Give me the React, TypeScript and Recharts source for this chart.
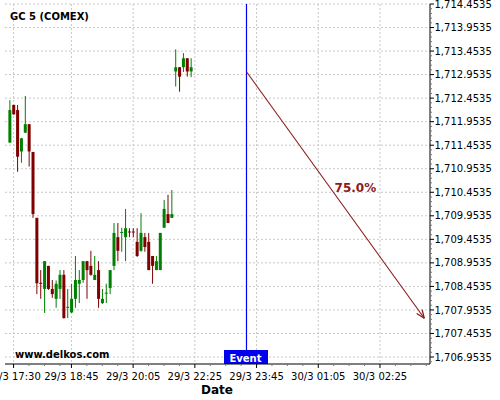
import React from 'react';
import { ComposedChart, Bar, XAxis, YAxis, CartesianGrid, ReferenceLine, ReferenceDot } from 'recharts';

// ---- data ----
const opens = [1711.51, 1712.31, 1712.2, 1711.32, 1711.72, 1711.9, 1711.31, 1709.91, 1708.53, 1708.4, 1708.89, 1708.4, 1708.19, 1708.4, 1708.7, 1708.01, 1707.9, 1708.19, 1708.51, 1708.59, 1708.99, 1708.89, 1708.59, 1708.8, 1708.1, 1708.31, 1708.42, 1708.89, 1709.5, 1709.6, 1709.5, 1709.62, 1709.62, 1709.4, 1709.21, 1709.5, 1709.4, 1709.1, 1708.8, 1708.8, 1709.7, 1709.99, 1709.91, 1713.02, 1713.11, 1713.11, 1713.3, 1713.02];
const highs = [1712.41, 1712.31, 1712.31, 1711.61, 1712.5, 1711.9, 1711.31, 1709.91, 1708.8, 1708.99, 1708.89, 1708.59, 1708.58, 1708.8, 1708.8, 1708.4, 1708.51, 1709.1, 1708.8, 1708.99, 1708.99, 1709.21, 1709.1, 1708.99, 1708.4, 1708.51, 1708.8, 1709.8, 1709.8, 1709.7, 1710.1, 1709.69, 1709.69, 1709.69, 1710.01, 1709.59, 1709.59, 1709.1, 1709.1, 1709.59, 1710.29, 1710.4, 1710.5, 1713.49, 1713.11, 1713.41, 1713.3, 1713.3];
const lows = [1711.5, 1712.1, 1710.89, 1711.08, 1711.71, 1711.0, 1709.91, 1708.29, 1708.19, 1707.89, 1708.38, 1708.21, 1708.0, 1708.19, 1707.77, 1707.78, 1707.89, 1708.0, 1708.1, 1708.53, 1708.19, 1708.68, 1708.59, 1708.0, 1708.08, 1708.1, 1708.29, 1708.8, 1708.99, 1709.19, 1708.99, 1709.5, 1709.5, 1709.08, 1709.19, 1709.19, 1708.8, 1708.51, 1708.8, 1708.8, 1709.7, 1709.8, 1709.91, 1712.7, 1712.59, 1713.01, 1712.91, 1712.9];
const closes = [1712.2, 1712.11, 1711.21, 1711.6, 1711.9, 1711.32, 1709.99, 1708.52, 1708.52, 1708.99, 1708.4, 1708.29, 1708.51, 1708.7, 1707.78, 1708.02, 1708.19, 1708.59, 1708.59, 1708.99, 1708.8, 1708.7, 1708.7, 1708.19, 1708.19, 1708.32, 1708.8, 1709.59, 1709.21, 1709.61, 1709.69, 1709.61, 1709.61, 1709.1, 1709.59, 1709.29, 1708.8, 1708.89, 1708.99, 1709.59, 1710.1, 1709.8, 1709.99, 1713.11, 1712.91, 1713.3, 1713.02, 1713.11];

const xMajorIdx = [0.85, 15.85, 31.85, 47.85, 63.85, 79.85, 95.85];
const xMajorLabels = ['29/3 17:30', '29/3 18:45', '29/3 20:05', '29/3 22:25', '29/3 23:45', '30/3 01:05', '30/3 02:25'];
const yMajor = [1706.9535, 1707.4535, 1707.9535, 1708.4535, 1708.9535, 1709.4535, 1709.9535, 1710.4535, 1710.9535, 1711.4535, 1711.9535, 1712.4535, 1712.9535, 1713.4535, 1713.9535, 1714.4535];

const X_DOMAIN: [number, number] = [-1.374, 108.82];
const Y_DOMAIN: [number, number] = [1706.805, 1714.4535];

const eventIndex = 61.24;
const arrowStart = { x: 61.24, y: 1713.015 };
const arrowEnd = { x: 107.34, y: 1707.776 };
const pctLabel = { x: 89.47, y: 1710.566, text: '75.0%' };

const data = opens.map((o, i) => ({ i, o, h: highs[i], l: lows[i], c: closes[i], range: [lows[i], highs[i]] }));

const r4 = (v: number) => Math.round(v * 10000) / 10000;
const xMinor = xMajorIdx.flatMap((v) => [v + 4, v + 8, v + 12]).filter((v) => v < X_DOMAIN[1]);
const xTicks = [...xMajorIdx, ...xMinor].sort((a, b) => a - b);
const yMinor = yMajor.flatMap((v) => [1, 2, 3, 4].map((k) => r4(v - 0.1 * k))).filter((v) => v > Y_DOMAIN[0]);
const yTicks = [...yMajor, ...yMinor].sort((a, b) => a - b);

const FONT = 'DejaVu Sans';
const fmt = (v: number) => v.toLocaleString('en-US', { minimumFractionDigits: 4, maximumFractionDigits: 4 });

const Candle = (props: any) => {
  const { x, y, width, height, payload } = props;
  if (!payload) return null;
  const { o, h, l, c } = payload;
  const top = Math.min(y, y + height);
  const bot = Math.max(y, y + height);
  const span = h - l;
  const toY = (v: number) => (span === 0 ? top : top + ((h - v) / span) * (bot - top));
  const cx = x + width / 2;
  const up = c >= o;
  const color = up ? '#008000' : '#800000';
  const bTop = toY(Math.max(o, c));
  const bBot = toY(Math.min(o, c));
  return (
    <g>
      <line x1={cx} x2={cx} y1={top} y2={bot} stroke={color} strokeWidth={1} />
      <rect x={cx - 1.5} y={bTop} width={3} height={Math.max(1, bBot - bTop)} fill={color} />
    </g>
  );
};

const YTick = (props: any) => {
  const { x, y, payload } = props;
  const v = payload.value;
  const major = yMajor.some((m) => Math.abs(m - v) < 1e-6);
  return (
    <g>
      <line x1={x} x2={x + (major ? 4 : 2)} y1={y} y2={y} stroke={major ? '#000' : '#777'} strokeWidth={1} />
      {major && (
        <text x={x + 4.5} y={y + 3.6} fontSize={10} fontFamily={FONT} fill="#000" textAnchor="start">
          {fmt(v)}
        </text>
      )}
    </g>
  );
};

const XTick = (props: any) => {
  const { x, y, payload } = props;
  const v = payload.value;
  const idx = xMajorIdx.findIndex((m) => Math.abs(m - v) < 1e-6);
  const major = idx >= 0;
  return (
    <g>
      <line x1={x} x2={x} y1={y} y2={y + (major ? 4 : 2)} stroke={major ? '#000' : '#777'} strokeWidth={1} />
      {major && (
        <text x={x} y={y + 16} fontSize={10} fontFamily={FONT} fill="#000" textAnchor="middle">
          {xMajorLabels[idx]}
        </text>
      )}
    </g>
  );
};

const EventShape = (props: any) => {
  const { x1, y1, x2, y2 } = props;
  const top = Math.min(y1, y2);
  const bot = Math.max(y1, y2);
  return (
    <g>
      <line x1={x1} x2={x2} y1={top} y2={bot - 14} stroke="#0000FF" strokeWidth={1.2} />
      <rect x={x1 - 22.5} y={bot - 14} width={44} height={14} fill="#0000EE" />
      <text x={x1 - 1} y={bot - 2.5} textAnchor="middle" fontSize={10} fontWeight="bold" fontFamily={FONT} fill="#fff">
        Event
      </text>
    </g>
  );
};

const ArrowShape = (props: any) => {
  const { x1, y1, x2, y2 } = props;
  const dx = x2 - x1;
  const dy = y2 - y1;
  const len = Math.sqrt(dx * dx + dy * dy) || 1;
  const ux = dx / len;
  const uy = dy / len;
  const hl = 9;
  const ang = 0.38;
  const cos = Math.cos(ang);
  const sin = Math.sin(ang);
  const b1x = x2 - hl * (ux * cos - uy * sin);
  const b1y = y2 - hl * (uy * cos + ux * sin);
  const b2x = x2 - hl * (ux * cos + uy * sin);
  const b2y = y2 - hl * (uy * cos - ux * sin);
  const col = '#8B1A1A';
  return (
    <g>
      <line x1={x1} y1={y1} x2={x2} y2={y2} stroke={col} strokeWidth={1.1} />
      <line x1={x2} y1={y2} x2={b1x} y2={b1y} stroke={col} strokeWidth={1.3} />
      <line x1={x2} y1={y2} x2={b2x} y2={b2y} stroke={col} strokeWidth={1.3} />
    </g>
  );
};

const PctShape = (props: any) => {
  const { cx, cy } = props;
  return (
    <text x={cx} y={cy + 5} textAnchor="middle" fontSize={12} fontWeight="bold" fontFamily={FONT} fill="#8B1A1A">
      {pctLabel.text}
    </text>
  );
};

export default function App() {
  return (
    <div style={{ position: 'absolute', left: 0, top: 0, width: 500, height: 400, background: '#fff' }}>
      <ComposedChart width={500} height={400} data={data} margin={{ top: 4, right: 0, left: 5, bottom: 0 }}>
        <CartesianGrid
          stroke="#c8c8c8"
          strokeDasharray="2 2"
          horizontalValues={yMajor}
          verticalValues={xMajorIdx}
        />
        <XAxis
          dataKey="i"
          type="number"
          domain={X_DOMAIN}
          allowDataOverflow
          ticks={xTicks}
          interval={0}
          height={36}
          tickSize={0}
          tickMargin={0}
          tickLine={false}
          axisLine={{ stroke: '#000', strokeWidth: 1 }}
          tick={<XTick />}
        />
        <YAxis
          orientation="right"
          type="number"
          domain={Y_DOMAIN}
          allowDataOverflow
          ticks={yTicks}
          interval={0}
          width={70}
          tickSize={0}
          tickMargin={0}
          tickLine={false}
          axisLine={{ stroke: '#000', strokeWidth: 1 }}
          tick={<YTick />}
        />
        <Bar dataKey="range" barSize={3} shape={<Candle />} isAnimationActive={false} />
        <ReferenceLine x={eventIndex} shape={(p: any) => <EventShape {...p} />} />
        <ReferenceLine segment={[arrowStart, arrowEnd]} shape={(p: any) => <ArrowShape {...p} />} />
        <ReferenceDot x={pctLabel.x} y={pctLabel.y} r={0} shape={(p: any) => <PctShape {...p} />} />
      </ComposedChart>
      <svg width={500} height={400} style={{ position: 'absolute', left: 0, top: 0, pointerEvents: 'none' }}>
        <text x={10} y={19.5} fontSize={10} fontWeight="bold" fontFamily={FONT} fill="#000">
          GC 5 (COMEX)
        </text>
        <text x={15} y={357.5} fontSize={10} fontWeight="bold" fontFamily={FONT} fill="#000">
          www.delkos.com
        </text>
        <text x={217} y={393.5} fontSize={12} fontWeight="bold" fontFamily={FONT} fill="#000" textAnchor="middle">
          Date
        </text>
      </svg>
    </div>
  );
}
